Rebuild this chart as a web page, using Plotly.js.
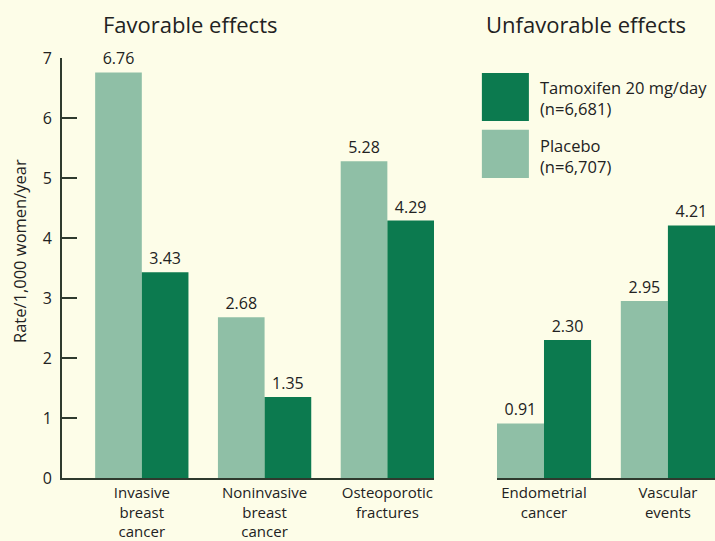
<!DOCTYPE html>
<html>
<head>
<meta charset="utf-8">
<script src="https://cdn.plot.ly/plotly-3.0.1.min.js"></script>
<style>html,body{margin:0;padding:0;background:#fdfde8;}</style>
</head>
<body>
<div id="chart" style="width:715px;height:541px;"></div>
<script>
// Data
const favCategories = ['Invasive<br>breast<br>cancer', 'Noninvasive<br>breast<br>cancer', 'Osteoporotic<br>fractures'];
const favPlacebo = [6.76, 2.68, 5.28];
const favTamoxifen = [3.43, 1.35, 4.29];
const unfavCategories = ['Endometrial<br>cancer', 'Vascular<br>events'];
const unfavPlacebo = [0.91, 2.95];
const unfavTamoxifen = [2.30, 4.21];
const seriesNames = ['Tamoxifen 20 mg/day<br>(n=6,681)', 'Placebo<br>(n=6,707)'];
const panelTitles = ['Favorable effects', 'Unfavorable effects'];
const yTitle = 'Rate/1,000 women/year';

const lightCol = '#8fbfa6';
const darkCol = '#0c7a4f';
const textCol = '#222222';
const axisCol = '#2e3a2e';
const bg = '#fdfde8';
const fontFam = '"Open Sans", "Noto Sans", sans-serif';

function bar(x, y, color, name, xa) {
  return {
    type: 'bar', x: x, y: y, name: name, xaxis: xa, yaxis: 'y',
    marker: {color: color, line: {width: 0}},
    texttemplate: '%{y:.2f}', textposition: 'outside', cliponaxis: false,
    textfont: {family: fontFam, size: 16, color: textCol},
    hoverinfo: 'x+y', showlegend: false
  };
}

const data = [
  bar(favCategories, favPlacebo, lightCol, 'Placebo', 'x'),
  bar(favCategories, favTamoxifen, darkCol, 'Tamoxifen', 'x'),
  bar(unfavCategories, unfavPlacebo, lightCol, 'Placebo', 'x2'),
  bar(unfavCategories, unfavTamoxifen, darkCol, 'Tamoxifen', 'x2')
];

const xCommon = {
  type: 'category', showline: true, linewidth: 2, linecolor: axisCol,
  ticks: '', showgrid: false, zeroline: false, fixedrange: true,
  tickfont: {family: fontFam, size: 15, color: textCol},
  ticklabelstandoff: 0
};

const layout = {
  width: 715, height: 541,
  margin: {l: 62, r: 0, t: 58, b: 63},
  paper_bgcolor: bg, plot_bgcolor: bg,
  barmode: 'group', bargap: 0.24, bargroupgap: 0,
  font: {family: fontFam, color: textCol},
  xaxis: Object.assign({}, xCommon, {domain: [0, 0.5697], range: [-0.65, 2.38], anchor: 'y'}),
  xaxis2: Object.assign({}, xCommon, {domain: [0.666, 1], range: [-0.38, 1.38], anchor: 'y'}),
  yaxis: {
    range: [0, 7], dtick: 1, tick0: 0, showline: true, linewidth: 2, linecolor: axisCol,
    ticks: 'inside', ticklen: 15, tickwidth: 2, tickcolor: axisCol,
    showgrid: false, zeroline: false,
    tickfont: {family: fontFam, size: 16, color: textCol},
    ticklabelstandoff: 5
  },
  shapes: [
    {type: 'rect', xref: 'paper', yref: 'paper', x0: 0.643, x1: 0.715, y0: 0.850, y1: 0.964, fillcolor: darkCol, line: {width: 0}},
    {type: 'rect', xref: 'paper', yref: 'paper', x0: 0.643, x1: 0.715, y0: 0.714, y1: 0.829, fillcolor: lightCol, line: {width: 0}}
  ],
  annotations: [
    {text: panelTitles[0], xref: 'paper', yref: 'paper', x: (190 - 62) / 653, y: (478 - 24) / 420, xanchor: 'center', yanchor: 'middle', showarrow: false, font: {family: fontFam, size: 22, color: textCol}},
    {text: panelTitles[1], xref: 'paper', yref: 'paper', x: (586 - 62) / 653, y: (478 - 24) / 420, xanchor: 'center', yanchor: 'middle', showarrow: false, font: {family: fontFam, size: 22, color: textCol}},
    {text: seriesNames[0], xref: 'paper', yref: 'paper', x: 0.729, y: (478 - 98) / 420, xanchor: 'left', yanchor: 'middle', align: 'left', showarrow: false, font: {family: fontFam, size: 16.5, color: textCol}},
    {text: seriesNames[1], xref: 'paper', yref: 'paper', x: 0.729, y: (478 - 156) / 420, xanchor: 'left', yanchor: 'middle', align: 'left', showarrow: false, font: {family: fontFam, size: 16.5, color: textCol}},
    {text: yTitle, xref: 'paper', yref: 'paper', x: (19 - 62) / 653, y: (478 - 251) / 420, xanchor: 'center', yanchor: 'middle', textangle: -90, showarrow: false, font: {family: fontFam, size: 16.5, color: textCol}}
  ]
};

Plotly.newPlot('chart', data, layout, {staticPlot: true, displayModeBar: false});
</script>
</body>
</html>
